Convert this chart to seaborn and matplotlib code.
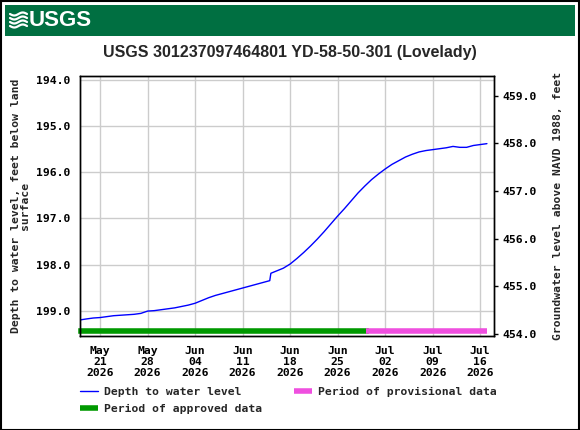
import numpy as np
import pandas as pd
import matplotlib
matplotlib.use("Agg")
import matplotlib.pyplot as plt
from matplotlib.patches import Rectangle
from matplotlib.lines import Line2D
import seaborn as sns

# depth to water level, feet below land surface
obs_times = [
    "2026-05-18 03:00", "2026-05-19", "2026-05-20", "2026-05-21", "2026-05-22",
    "2026-05-23", "2026-05-24", "2026-05-25", "2026-05-26", "2026-05-27",
    "2026-05-28", "2026-05-29", "2026-05-30", "2026-05-31", "2026-06-01",
    "2026-06-02", "2026-06-03", "2026-06-04", "2026-06-05", "2026-06-06",
    "2026-06-07", "2026-06-08", "2026-06-09", "2026-06-10", "2026-06-11",
    "2026-06-12", "2026-06-13", "2026-06-14", "2026-06-15", "2026-06-15 04:00",
    "2026-06-16", "2026-06-17", "2026-06-18", "2026-06-19", "2026-06-20",
    "2026-06-21", "2026-06-22", "2026-06-23", "2026-06-24", "2026-06-25",
    "2026-06-26", "2026-06-27", "2026-06-28", "2026-06-29", "2026-06-30",
    "2026-07-01", "2026-07-02", "2026-07-03", "2026-07-04", "2026-07-05",
    "2026-07-06", "2026-07-07", "2026-07-08", "2026-07-09", "2026-07-10",
    "2026-07-11", "2026-07-12", "2026-07-13", "2026-07-14", "2026-07-15",
    "2026-07-16", "2026-07-17",
]
depth = [
    199.20, 199.18, 199.16, 199.15, 199.13,
    199.11, 199.10, 199.09, 199.08, 199.06,
    199.01, 199.00, 198.98, 198.96, 198.94,
    198.91, 198.88, 198.84, 198.78, 198.72,
    198.67, 198.63, 198.59, 198.55, 198.51,
    198.47, 198.43, 198.39, 198.35, 198.19,
    198.14, 198.08, 197.99, 197.87, 197.74,
    197.60, 197.45, 197.29, 197.12, 196.95,
    196.79, 196.62, 196.45, 196.30, 196.16,
    196.04, 195.93, 195.83, 195.75, 195.67,
    195.61, 195.56, 195.53, 195.51, 195.49,
    195.47, 195.44, 195.46, 195.46, 195.42,
    195.40, 195.38,
]

approved_period = ["2026-05-18 03:00", "2026-06-29 05:00"]
provisional_period = ["2026-06-29 05:00", "2026-07-17 00:00"]

tick_dates = ["2026-05-21", "2026-05-28", "2026-06-04", "2026-06-11", "2026-06-18",
              "2026-06-25", "2026-07-02", "2026-07-09", "2026-07-16"]
left_ticks = [194.0, 195.0, 196.0, 197.0, 198.0, 199.0]
right_ticks = [454.0, 455.0, 456.0, 457.0, 458.0, 459.0]

title = "USGS 301237097464801 YD-58-50-301 (Lovelady)"

sns.set_theme(style="whitegrid")
mono = ["DejaVu Sans Mono"]
plt.rcParams["font.family"] = mono
plt.rcParams["font.weight"] = "bold"
fs = 8.2

fig = plt.figure(figsize=(5.8, 4.3), dpi=100)
fig.patch.set_facecolor("white")

# border and banner
fig.patches.append(Rectangle((0.001, 0.001), 0.997, 0.997, transform=fig.transFigure,
                             fill=False, edgecolor="black", lw=1.5))
fig.patches.append(Rectangle((5 / 580, 1 - 36 / 430), 570 / 580, 31 / 430,
                             transform=fig.transFigure, facecolor="#006f41", edgecolor="none"))
for k in range(4):
    xs = np.linspace(10, 27, 30)
    ys = 14 + k * 4 + 1.5 * np.sin((xs - 10) / 17 * 2 * np.pi)
    fig.add_artist(Line2D(xs / 580, 1 - ys / 430, color="white", lw=1.6, transform=fig.transFigure))
fig.text(29 / 580, 1 - 21 / 430, "USGS", color="white", fontsize=16, fontweight="bold",
         family=["Liberation Sans"], va="center", ha="left")

fig.text(0.5, 1 - 53 / 430, title, fontsize=11.5, fontweight="bold",
         family=["Liberation Sans"], ha="center", va="center")

ax = fig.add_axes([80 / 580, 1 - 336 / 430, 414 / 580, 259.7 / 430])
df = pd.DataFrame({"time": pd.to_datetime(obs_times, format="ISO8601"), "depth": depth})
sns.lineplot(data=df, x="time", y="depth", ax=ax, color="#0000ff", lw=1,
             label="Depth to water level", legend=False)

bar_y = 199.45
ax.plot(pd.to_datetime(approved_period), [bar_y, bar_y], color="#009900", lw=4,
        solid_capstyle="projecting", clip_on=False, label="Period of approved data")
ax.plot(pd.to_datetime(provisional_period), [bar_y, bar_y], color="#ef4fdf", lw=4,
        solid_capstyle="butt", clip_on=False, label="Period of provisional data")

ax.set_xlim(pd.Timestamp("2026-05-18 01:00"), pd.Timestamp("2026-07-18 01:00"))
ax.set_ylim(199.55, 193.92)
td = pd.to_datetime(tick_dates)
ax.set_xticks(td)
ax.set_xticklabels([d.strftime("%b\n%d\n%Y") for d in td], fontsize=fs, fontweight="bold",
                   linespacing=1.15)
ax.set_yticks(left_ticks)
ax.set_yticklabels([f"{v:.1f}" for v in left_ticks], fontsize=fs, fontweight="bold")
ax.tick_params(axis="both", length=0, pad=7, colors="black")
ax.grid(True, color="#cccccc", lw=1)
ax.set_xlabel("")
ax.set_ylabel("Depth to water level, feet below land\nsurface", fontsize=fs,
              fontweight="bold", linespacing=0.95, labelpad=4)

ax2 = ax.twinx()
ax2.set_ylim(453.96, 459.41)
ax2.set_yticks(right_ticks)
ax2.set_yticklabels([f"{v:.1f}" for v in right_ticks], fontsize=fs, fontweight="bold")
ax2.tick_params(axis="y", length=3, width=1, pad=3, colors="black", direction="out")
ax2.grid(False)
ax2.set_ylabel("Groundwater level above NAVD 1988, feet", fontsize=fs,
               fontweight="bold", labelpad=12)
for a in (ax, ax2):
    for s in a.spines.values():
        s.set_color("black")
        s.set_linewidth(1)

handles = [
    Line2D([], [], color="#0000ff", lw=1),
    Line2D([], [], color="#009900", lw=4, solid_capstyle="butt"),
    Line2D([], [], color="#ef4fdf", lw=4, solid_capstyle="butt"),
]
labels = ["Depth to water level", "Period of approved data", "Period of provisional data"]
fig.legend(handles, labels, loc="upper left", bbox_to_anchor=(80 / 580, 1 - 387 / 430),
           ncol=2, frameon=False, prop={"size": fs, "weight": "bold"},
           handlelength=1.6, handletextpad=0.55, columnspacing=2.75, labelspacing=0.62,
           borderpad=0, borderaxespad=0)

fig.savefig("out.png", dpi=100)
